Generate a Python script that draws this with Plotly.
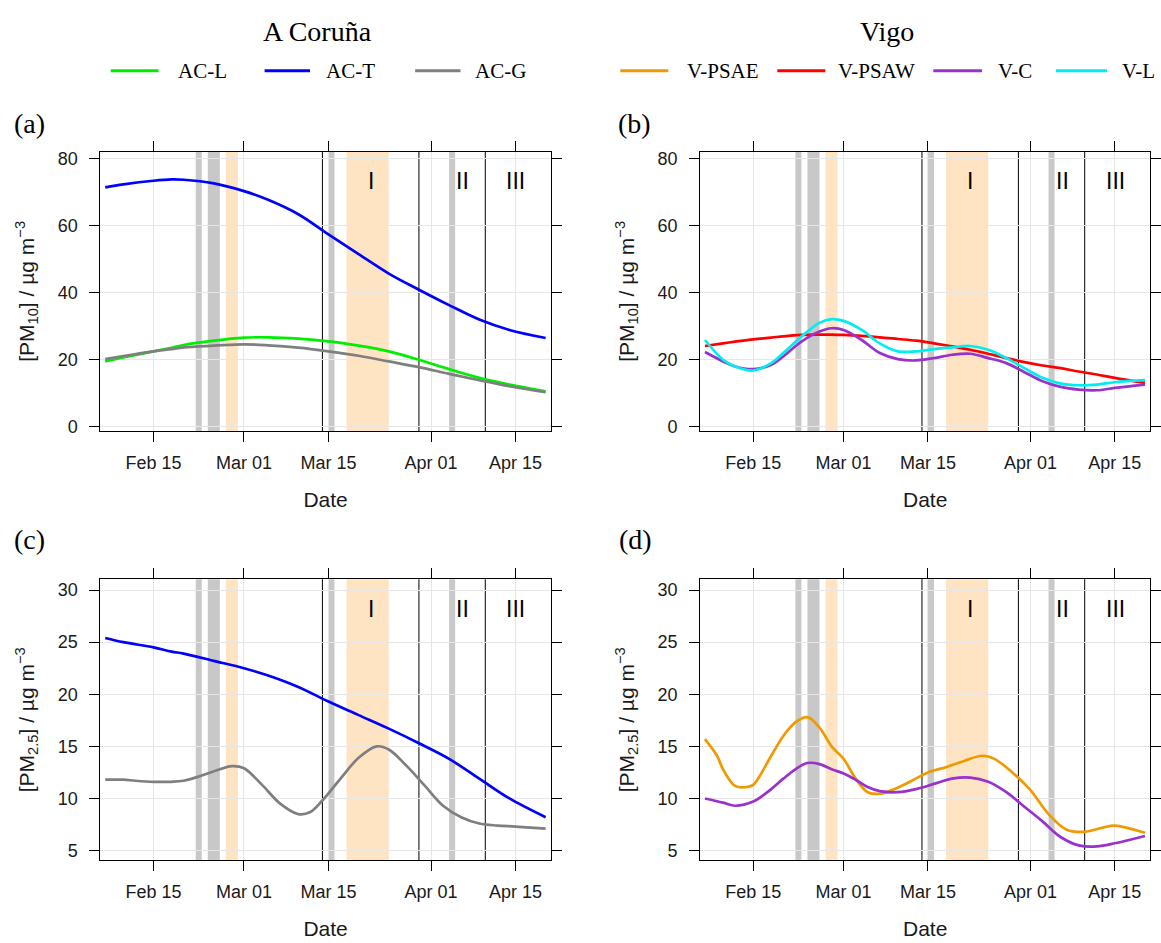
import plotly.graph_objects as go

W, H = 1161, 943

# ---------------- data ----------------
# Panel (a): PM10, A Coruña
a_dates = ["2020-02-07", "2020-02-10", "2020-02-15", "2020-02-18", "2020-02-20", "2020-02-25",
           "2020-03-01", "2020-03-05", "2020-03-10", "2020-03-15", "2020-03-20", "2020-03-25",
           "2020-03-30", "2020-04-04", "2020-04-09", "2020-04-14", "2020-04-20"]
ac_l_pm10 = [19.4, 20.6, 22.4, 23.5, 24.3, 25.6, 26.5, 26.6, 26.2, 25.4, 24.1, 22.4, 19.9, 17.1, 14.5, 12.5, 10.5]
ac_t_pm10 = [71.3, 72.2, 73.3, 73.7, 73.6, 72.5, 70.2, 67.6, 63.3, 57.3, 51.4, 45.6, 40.8, 36.2, 31.9, 28.8, 26.4]
ac_g_pm10 = [20.1, 21.0, 22.4, 23.1, 23.6, 24.1, 24.5, 24.2, 23.5, 22.4, 21.1, 19.4, 17.7, 15.7, 13.8, 12.0, 10.2]

# Panel (b): PM10, Vigo
b_dates = ["2020-02-07", "2020-02-10", "2020-02-12", "2020-02-15", "2020-02-18", "2020-02-20",
           "2020-02-23", "2020-02-26", "2020-02-28", "2020-03-01", "2020-03-04", "2020-03-07",
           "2020-03-10", "2020-03-13", "2020-03-16", "2020-03-19", "2020-03-22", "2020-03-25",
           "2020-03-28", "2020-03-31", "2020-04-03", "2020-04-06", "2020-04-09", "2020-04-12",
           "2020-04-15", "2020-04-20"]
v_psaw_pm10 = [24.0, 24.8, 25.3, 26.0, 26.5, 26.9, 27.3, 27.4, 27.4, 27.3, 27.0, 26.6, 26.1,
               25.6, 24.8, 23.9, 22.9, 21.7, 20.4, 19.2, 18.2, 17.4, 16.4, 15.5, 14.5, 13.0]
v_c_pm10 = [22.2, 19.4, 17.9, 17.1, 18.4, 20.9, 25.3, 28.3, 29.3, 28.8, 25.8, 21.9, 20.1,
            19.7, 20.4, 21.4, 21.7, 20.4, 18.9, 16.2, 13.5, 11.8, 11.0, 10.8, 11.5, 12.5]
v_l_pm10 = [25.8, 19.9, 17.9, 16.7, 18.9, 21.9, 26.8, 30.9, 32.0, 31.5, 28.8, 24.8, 22.4,
            22.4, 23.1, 23.6, 24.0, 22.9, 20.4, 17.4, 14.5, 12.8, 12.3, 12.5, 13.2, 13.8]

# Panel (c): PM2.5, A Coruña
c_t_dates = a_dates
ac_t_pm25 = [25.4, 25.0, 24.5, 24.1, 23.9, 23.2, 22.5, 21.8, 20.7, 19.3, 18.0, 16.7, 15.3, 13.8, 11.9, 10.0, 8.2]
c_g_dates = ["2020-02-07", "2020-02-10", "2020-02-12", "2020-02-15", "2020-02-18", "2020-02-20",
             "2020-02-23", "2020-02-26", "2020-02-28", "2020-03-01", "2020-03-04", "2020-03-07",
             "2020-03-10", "2020-03-12", "2020-03-14", "2020-03-17", "2020-03-20", "2020-03-23",
             "2020-03-25", "2020-03-28", "2020-03-31", "2020-04-03", "2020-04-06", "2020-04-09",
             "2020-04-12", "2020-04-15", "2020-04-20"]
ac_g_pm25 = [11.8, 11.8, 11.7, 11.6, 11.6, 11.7, 12.2, 12.8, 13.1, 12.9, 11.3, 9.5, 8.5, 8.7,
             9.8, 11.9, 13.9, 15.0, 14.7, 13.1, 11.2, 9.3, 8.2, 7.6, 7.4, 7.3, 7.1]

# Panel (d): PM2.5, Vigo
d_e_dates = ["2020-02-07", "2020-02-09", "2020-02-10", "2020-02-12", "2020-02-14", "2020-02-15",
             "2020-02-18", "2020-02-20", "2020-02-22", "2020-02-24", "2020-02-26", "2020-02-28",
             "2020-03-01", "2020-03-03", "2020-03-05", "2020-03-07", "2020-03-09", "2020-03-12",
             "2020-03-15", "2020-03-18", "2020-03-21", "2020-03-24", "2020-03-26", "2020-03-29",
             "2020-04-01", "2020-04-04", "2020-04-07", "2020-04-10", "2020-04-13", "2020-04-15",
             "2020-04-20"]
v_psae_pm25 = [15.7, 14.1, 12.8, 11.2, 11.1, 11.3, 14.1, 16.0, 17.3, 17.8, 16.8, 15.0, 13.8,
               11.9, 10.6, 10.45, 10.8, 11.6, 12.5, 13.0, 13.6, 14.1, 13.8, 12.5, 10.8, 8.5,
               7.0, 6.8, 7.2, 7.4, 6.7]
d_c_dates = ["2020-02-07", "2020-02-10", "2020-02-12", "2020-02-15", "2020-02-18", "2020-02-20",
             "2020-02-22", "2020-02-24", "2020-02-26", "2020-02-28", "2020-03-01", "2020-03-03",
             "2020-03-05", "2020-03-07", "2020-03-10", "2020-03-13", "2020-03-16", "2020-03-19",
             "2020-03-22", "2020-03-25", "2020-03-28", "2020-03-31", "2020-04-03", "2020-04-06",
             "2020-04-09", "2020-04-12", "2020-04-15", "2020-04-20"]
v_c_pm25 = [10.0, 9.6, 9.3, 9.7, 10.9, 11.9, 12.8, 13.4, 13.3, 12.8, 12.4, 11.8, 11.1, 10.7,
            10.6, 10.9, 11.4, 11.9, 12.0, 11.6, 10.6, 9.2, 7.8, 6.3, 5.5, 5.4, 5.7, 6.4]

# Event markers
gray_bands = [("2020-02-22", "2020-02-23"), ("2020-02-24", "2020-02-26"),
              ("2020-03-15", "2020-03-16"), ("2020-04-04", "2020-04-05")]
orange_bands = [("2020-02-27", "2020-02-29"), ("2020-03-18", "2020-03-25")]
phase_lines = ["2020-03-14", "2020-03-30", "2020-04-10"]
phase_labels = ["I", "II", "III"]
phase_label_dates = ["2020-03-22", "2020-04-06 07:00", "2020-04-15 01:00"]

xtick_dates = ["2020-02-15", "2020-03-01", "2020-03-15", "2020-04-01", "2020-04-15"]
xtick_labels = ["Feb 15", "Mar 01", "Mar 15", "Apr 01", "Apr 15"]
pm10_ticks = [0, 20, 40, 60, 80]
pm25_ticks = [5, 10, 15, 20, 25, 30]

# ---------------- styling ----------------
SANS = "Liberation Sans, Arial, sans-serif"
SERIF = "Liberation Serif, Times New Roman, serif"
COL = {"AC-L": "#00EE00", "AC-T": "#0000FF", "AC-G": "#7F7F7F",
       "V-PSAE": "#EE9A00", "V-PSAW": "#FF0000", "V-C": "#9932CC", "V-L": "#00EEEE"}
LW = 2.7

X_RANGE = ["2020-02-06 04:34", "2020-04-20 20:53"]


def px_x(p):
    return p / W


def px_y(p):
    return 1 - p / H


dom_x_left = [px_x(100.6), px_x(552.3)]
dom_x_right = [px_x(701.9), px_x(1153.2)]
dom_y_top = [px_y(432.3), px_y(150.0)]
dom_y_bot = [px_y(865.7), px_y(581.7)]

fig = go.Figure()


def add_line(x, y, name, xa, ya):
    fig.add_trace(go.Scatter(x=x, y=y, name=name, mode="lines", xaxis=xa, yaxis=ya,
                             line=dict(color=COL[name], width=LW, shape="spline", smoothing=1.0),
                             showlegend=False))


add_line(a_dates, ac_l_pm10, "AC-L", "x", "y")
add_line(a_dates, ac_g_pm10, "AC-G", "x", "y")
add_line(a_dates, ac_t_pm10, "AC-T", "x", "y")

add_line(b_dates, v_psaw_pm10, "V-PSAW", "x2", "y2")
add_line(b_dates, v_c_pm10, "V-C", "x2", "y2")
add_line(b_dates, v_l_pm10, "V-L", "x2", "y2")

add_line(c_g_dates, ac_g_pm25, "AC-G", "x3", "y3")
add_line(c_t_dates, ac_t_pm25, "AC-T", "x3", "y3")

add_line(d_e_dates, v_psae_pm25, "V-PSAE", "x4", "y4")
add_line(d_c_dates, v_c_pm25, "V-C", "x4", "y4")

tickfont = dict(family=SANS, size=18, color="#1a1a1a")
titlefont = dict(family=SANS, size=21, color="#1a1a1a")


def xaxis(domain, anchor):
    return dict(domain=domain, anchor=anchor, type="date", range=X_RANGE,
                tickvals=xtick_dates, ticktext=xtick_labels,
                ticks="outside", ticklen=10, tickwidth=1, tickcolor="black",
                showline=True, linecolor="black", linewidth=1, mirror="allticks",
                showgrid=True, gridcolor="#E6E6E6", gridwidth=1, zeroline=False,
                tickfont=tickfont, ticklabelstandoff=5,
                title=dict(text="Date", font=titlefont, standoff=20))


def yaxis(domain, anchor, rng, tv, label):
    return dict(domain=domain, anchor=anchor, range=rng, tickvals=tv,
                ticks="outside", ticklen=10, tickwidth=1, tickcolor="black",
                showline=True, linecolor="black", linewidth=1, mirror="allticks",
                showgrid=True, gridcolor="#E6E6E6", gridwidth=1, zeroline=False,
                tickfont=tickfont, ticklabelstandoff=8,
                title=dict(text=label, font=titlefont, standoff=17))


PM10_LABEL = "[PM<sub>10</sub>] / µg m<sup>−3</sup>"
PM25_LABEL = "[PM<sub>2.5</sub>] / µg m<sup>−3</sup>"

fig.update_layout(
    width=W, height=H, margin=dict(l=0, r=0, t=0, b=0),
    paper_bgcolor="white", plot_bgcolor="white", showlegend=False,
    xaxis=xaxis(dom_x_left, "y"), yaxis=yaxis(dom_y_top, "x", [-1.4, 82], pm10_ticks, PM10_LABEL),
    xaxis2=xaxis(dom_x_right, "y2"), yaxis2=yaxis(dom_y_top, "x2", [-1.4, 82], pm10_ticks, PM10_LABEL),
    xaxis3=xaxis(dom_x_left, "y3"), yaxis3=yaxis(dom_y_bot, "x3", [4.05, 31.05], pm25_ticks, PM25_LABEL),
    xaxis4=xaxis(dom_x_right, "y4"), yaxis4=yaxis(dom_y_bot, "x4", [4.05, 31.05], pm25_ticks, PM25_LABEL),
)

# Bands, phase lines and phase labels on every panel
for xa, ya in [("x", "y"), ("x2", "y2"), ("x3", "y3"), ("x4", "y4")]:
    for x0, x1 in gray_bands:
        fig.add_shape(type="rect", xref=xa, yref=f"{ya} domain", x0=x0, x1=x1, y0=0, y1=1,
                      fillcolor="#C8C8C8", line_width=0, layer="below")
    for x0, x1 in orange_bands:
        fig.add_shape(type="rect", xref=xa, yref=f"{ya} domain", x0=x0, x1=x1, y0=0, y1=1,
                      fillcolor="#FFE4C4", line_width=0, layer="below")
    for xl in phase_lines:
        fig.add_shape(type="line", xref=xa, yref=f"{ya} domain", x0=xl, x1=xl, y0=0, y1=1,
                      line=dict(color="black", width=1), layer="below")
    for lab, xd in zip(phase_labels, phase_label_dates):
        fig.add_annotation(text=lab, xref=xa, yref=f"{ya} domain", x=xd, y=0.895,
                           showarrow=False, xanchor="center", yanchor="middle",
                           font=dict(family=SANS, size=23, color="black"))

# Panel letters
for lab, xp, yp in [("(a)", 30, 122), ("(b)", 636, 122), ("(c)", 30, 542), ("(d)", 637, 542)]:
    fig.add_annotation(text=lab, xref="paper", yref="paper", x=px_x(xp), y=px_y(yp),
                       showarrow=False, xanchor="center", yanchor="middle",
                       font=dict(family=SERIF, size=28, color="black"))

# Group titles
for lab, xp in [("A Coruña", 318.2), ("Vigo", 889.4)]:
    fig.add_annotation(text=lab, xref="paper", yref="paper", x=px_x(xp), y=px_y(28.3),
                       showarrow=False, xanchor="center", yanchor="middle",
                       font=dict(family=SERIF, size=28, color="black"))

# Legend keys (drawn as line swatches + text)
legend_names = ["AC-L", "AC-T", "AC-G", "V-PSAE", "V-PSAW", "V-C", "V-L"]
legend_line_px = [(111, 159), (265.3, 310.8), (416.2, 461.7), (621.9, 670),
                  (779.3, 827.5), (935.7, 984.6), (1058.7, 1109.8)]
legend_text_px = [176.8, 324.5, 474.7, 686.7, 838.2, 998.7, 1122.8]
LEG_Y = 68.3
for name, (l0, l1), tx in zip(legend_names, legend_line_px, legend_text_px):
    fig.add_shape(type="line", xref="paper", yref="paper", x0=px_x(l0), x1=px_x(l1),
                  y0=px_y(LEG_Y), y1=px_y(LEG_Y), line=dict(color=COL[name], width=3))
    fig.add_annotation(text=name, xref="paper", yref="paper", x=px_x(tx), y=px_y(LEG_Y),
                       showarrow=False, xanchor="left", yanchor="middle",
                       font=dict(family=SERIF, size=21, color="black"))

fig.write_html("out.html", config={"displayModeBar": False},
               post_script="document.body.style.margin='0';")
